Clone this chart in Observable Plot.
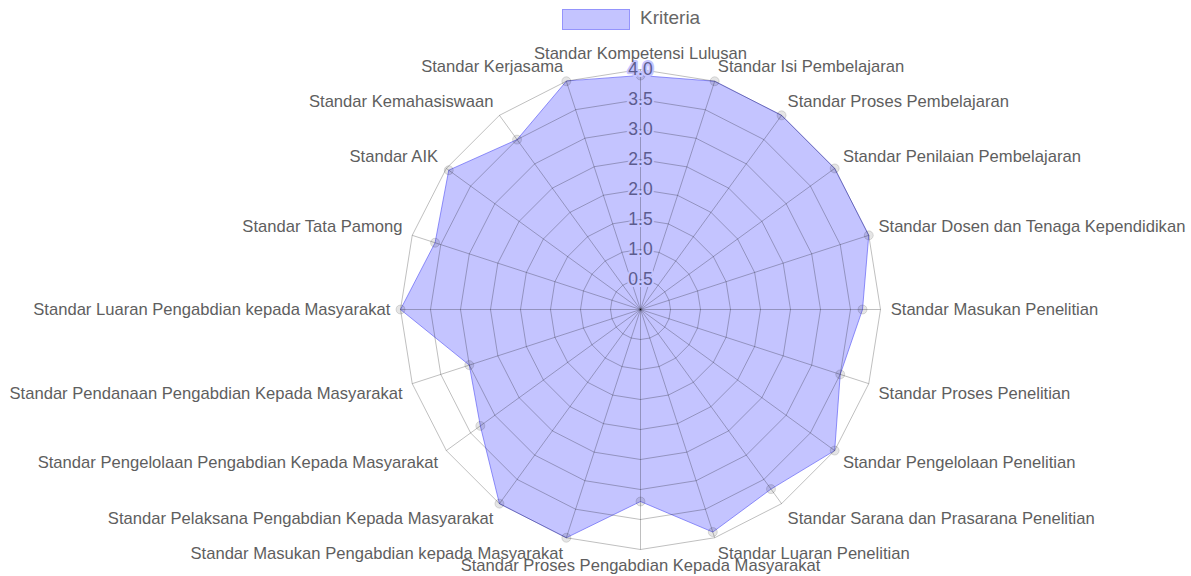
<!DOCTYPE html>
<html>
<head>
<meta charset="utf-8">
<script src="https://cdn.jsdelivr.net/npm/d3@7"></script>
<script src="https://cdn.jsdelivr.net/npm/@observablehq/plot@0.6"></script>
<style>
  body { margin: 0; background: #fff; font-family: "Liberation Sans", Arial, sans-serif; }
  #legend { position: relative; height: 36px; width: 1191px; }
  #legend .box { position: absolute; left: 562px; top: 9px; width: 66px; height: 19px;
    background: rgba(0,0,255,0.23); border: 1px solid rgba(110,110,250,0.55); }
  #legend .lbl { position: absolute; left: 640px; top: 7px; font-size: 19px; color: #666; line-height: 22px; }
  #chart svg { display: block; }
</style>
</head>
<body>
<div id="legend"><div class="box"></div><div class="lbl">Kriteria</div></div>
<div id="chart"></div>
<script>
const categories = [
  "Standar Kompetensi Lulusan",
  "Standar Isi Pembelajaran",
  "Standar Proses Pembelajaran",
  "Standar Penilaian Pembelajaran",
  "Standar Dosen dan Tenaga Kependidikan",
  "Standar Masukan Penelitian",
  "Standar Proses Penelitian",
  "Standar Pengelolaan Penelitian",
  "Standar Sarana dan Prasarana Penelitian",
  "Standar Luaran Penelitian",
  "Standar Proses Pengabdian Kepada Masyarakat",
  "Standar Masukan Pengabdian kepada Masyarakat",
  "Standar Pelaksana Pengabdian Kepada Masyarakat",
  "Standar Pengelolaan Pengabdian Kepada Masyarakat",
  "Standar Pendanaan Pengabdian Kepada Masyarakat",
  "Standar Luaran Pengabdian kepada Masyarakat",
  "Standar Tata Pamong",
  "Standar AIK",
  "Standar Kemahasiswaan",
  "Standar Kerjasama"
];
const values = [3.9, 4.0, 4.0, 4.0, 4.0, 3.7, 3.5, 4.0, 3.7, 3.9,
                3.2, 4.0, 4.0, 3.3, 3.0, 4.0, 3.6, 3.95, 3.5, 4.0];
const tickValues = [0.5, 1.0, 1.5, 2.0, 2.5, 3.0, 3.5, 4.0];
const tickLabels = ["0.5", "1.0", "1.5", "2.0", "2.5", "3.0", "3.5", "4.0"];
const maxValue = 4;
const labelRadius = 4.17;

const n = categories.length;
const ang = i => (2 * Math.PI * i) / n;
const px = (r, i) => r * Math.sin(ang(i));
const py = (r, i) => r * Math.cos(ang(i));

const data = categories.map((c, i) => ({ i, c, v: values[i] }));
const grid = tickValues.flatMap(r => categories.map((c, i) => ({ r, i })));
const ticks = tickValues.map((r, k) => ({ r, t: tickLabels[k] }));

const W = 1191, H = 540, cx = 640, cy = 273, k = 60;

const labelGroup = (filter, textAnchor, lineAnchor, dx = 0) =>
  Plot.text(data.filter(filter), {
    x: d => px(labelRadius, d.i), y: d => py(labelRadius, d.i),
    text: "c", textAnchor, lineAnchor, dx,
    fill: "#5e5e5e", fontSize: 16.6
  });

const chart = Plot.plot({
  width: W, height: H,
  margin: 0,
  x: { domain: [-cx / k, (W - cx) / k], axis: null },
  y: { domain: [-(H - cy) / k, cy / k], axis: null },
  style: { fontFamily: "'Liberation Sans', Arial, sans-serif", background: "white" },
  marks: [
    Plot.line(data, {
      x: d => px(d.v, d.i), y: d => py(d.v, d.i),
      curve: "linear-closed",
      fill: "rgb(0,0,255)", fillOpacity: 0.23,
      stroke: "rgb(90,90,245)", strokeOpacity: 0.65, strokeWidth: 1
    }),
    Plot.line(grid, {
      x: d => px(d.r, d.i), y: d => py(d.r, d.i), z: "r",
      curve: "linear-closed", stroke: "black", strokeOpacity: 0.25, strokeWidth: 1
    }),
    Plot.link(data, {
      x1: 0, y1: 0,
      x2: d => px(maxValue, d.i), y2: d => py(maxValue, d.i),
      stroke: "black", strokeOpacity: 0.25, strokeWidth: 1
    }),
    Plot.dot(data, {
      x: d => px(d.v, d.i), y: d => py(d.v, d.i),
      r: 4.5, fill: "rgba(0,0,0,0.1)", stroke: "rgba(0,0,0,0.12)", strokeWidth: 1
    }),
    Plot.text(ticks, {
      x: 0, y: "r", text: "t",
      fill: "#5c5c8e", fontSize: 17.5,
      stroke: "rgb(196,196,255)", strokeWidth: 4
    }),
    labelGroup(d => d.i === 0, "middle", "bottom"),
    labelGroup(d => d.i >= 1 && d.i <= 4, "start", "bottom"),
    labelGroup(d => d.i === 5, "start", "middle"),
    labelGroup(d => d.i >= 6 && d.i <= 9, "start", "top"),
    labelGroup(d => d.i === 10, "middle", "top"),
    labelGroup(d => d.i >= 11 && d.i <= 14, "end", "top"),
    labelGroup(d => d.i === 15, "end", "middle"),
    labelGroup(d => d.i >= 16, "end", "bottom")
  ]
});
document.getElementById("chart").appendChild(chart);
</script>
</body>
</html>
